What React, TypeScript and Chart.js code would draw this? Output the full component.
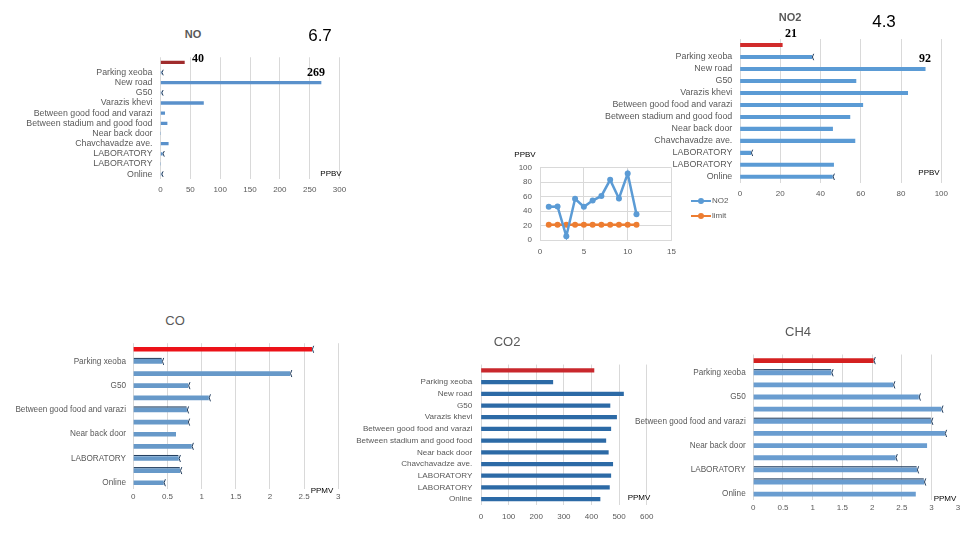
import React, { useEffect, useRef } from 'react';
import { Chart, registerables } from 'chart.js';

Chart.register(...registerables);

const FONT = "'Liberation Sans', Arial, sans-serif";
const SERIF = "'Liberation Serif', 'DejaVu Serif', serif";
const TEXT = '#595959';
const GRID = '#d9d9d9';

// Monitoring points (row 0 of each bar chart carries the guideline value)
const stations = [
  'Parking xeoba',
  'New road',
  'G50',
  'Varazis khevi',
  'Between good food and varazi',
  'Between stadium and good food',
  'Near back door',
  'Chavchavadze ave.',
  'LABORATORY',
  'LABORATORY',
  'Online',
];
const rowLabels = ['', ...stations];

// NO, ppbv
const noLimit = 40;
const noValues = [1.2, 269, 1, 72, 7, 11, 0, 13, 3, 0, 1];
const noAxis = [0, 300, 50];

// NO2, ppbv
const no2Limit = 21;
const no2Values = [35.6, 92, 57.6, 83.3, 61, 54.6, 46, 57.1, 5.3, 46.5, 45.9];
const no2Axis = [0, 100, 20];

// NO2 time series vs limit
const seriesX = [1, 2, 3, 4, 5, 6, 7, 8, 9, 10, 11];
const no2Series = [45.9, 46.5, 5.3, 57.1, 46, 54.6, 61, 83.3, 57.6, 92, 35.6];
const limitSeries = [21, 21, 21, 21, 21, 21, 21, 21, 21, 21, 21];
const seriesXAxis = [0, 15, 5];
const seriesYAxis = [0, 100, 20];

// CO, ppmv
const coLimit = 2.61;
const coValues = [0.415, 2.29, 0.8, 1.1, 0.78, 0.795, 0.62, 0.85, 0.66, 0.68, 0.44];
const coAxis = [0, 3, 0.5];

// CO2, ppmv
const co2Limit = 409;
const co2Values = [260, 516, 467, 491, 470, 452, 461, 477, 470, 465, 431];
const co2Axis = [0, 600, 100];

// CH4, ppmv
const ch4Limit = 2.02;
const ch4Values = [1.31, 2.35, 2.78, 3.16, 2.99, 3.22, 2.92, 2.39, 2.75, 2.87, 2.73];
const ch4Axis = [0, 3.5, 0.5];

type Frame = { left: number; right: number; top: number; bottom: number };

const tickText = (v: any) => String(Math.round(Number(v) * 100) / 100);

function fitCanvas(plot: Frame, canvasLeft: number, canvasTop: number, padRight: number, axisH: number) {
  const width = Math.ceil(plot.right - canvasLeft + padRight);
  const height = Math.ceil(plot.bottom - canvasTop + axisH);
  return {
    left: canvasLeft,
    top: canvasTop,
    width,
    height,
    yAxisW: plot.left - canvasLeft,
    padTop: plot.top - canvasTop,
    padRight: width - (plot.right - canvasLeft),
    axisH: height - (plot.bottom - canvasTop),
  };
}

// Error-bar style marks drawn at bar ends / along bar tops
function capsPlugin(ends: number[], tops: number[]) {
  return {
    id: 'errorCaps',
    afterDatasetsDraw(chart: any) {
      const meta = chart.getDatasetMeta(0);
      const ctx = chart.ctx;
      ctx.save();
      ctx.strokeStyle = '#1f3b5c';
      ctx.lineWidth = 1;
      tops.forEach((i) => {
        const el: any = meta.data[i];
        if (!el) return;
        const y = el.y - el.height / 2 - 1;
        ctx.beginPath();
        ctx.moveTo(el.base, y);
        ctx.lineTo(el.x, y);
        ctx.stroke();
      });
      ends.forEach((i) => {
        const el: any = meta.data[i];
        if (!el) return;
        const h = el.height / 2 + 1.5;
        ctx.beginPath();
        ctx.moveTo(el.x + 2, el.y - h);
        ctx.quadraticCurveTo(el.x - 0.5, el.y, el.x + 2, el.y + h);
        ctx.stroke();
      });
      ctx.restore();
    },
  };
}

interface BarSpec {
  limit: number;
  values: number[];
  axis: number[];
  plot: Frame;
  canvasLeft: number;
  canvasTop: number;
  tickPad: number;
  labelPad: number;
  fontSize: number;
  thickness: number;
  red: string;
  blue: string;
  everyOther?: boolean;
  ends?: number[];
  tops?: number[];
}

function barSetup(s: BarSpec) {
  const f = fitCanvas(s.plot, s.canvasLeft, s.canvasTop, 14, 20);
  const font = { family: FONT, size: s.fontSize };
  const config: any = {
    type: 'bar',
    data: {
      labels: rowLabels,
      datasets: [
        {
          data: [s.limit, ...s.values],
          backgroundColor: [s.red, ...s.values.map(() => s.blue)],
          barThickness: s.thickness,
          borderWidth: 0,
        },
      ],
    },
    options: {
      indexAxis: 'y',
      responsive: false,
      animation: false,
      layout: { padding: { left: 0, top: f.padTop, right: f.padRight, bottom: 0 } },
      plugins: { legend: { display: false }, tooltip: { enabled: false } },
      scales: {
        x: {
          min: s.axis[0],
          max: s.axis[1],
          ticks: {
            stepSize: s.axis[2],
            padding: s.tickPad,
            color: TEXT,
            font: { family: FONT, size: 8 },
            maxRotation: 0,
            callback: tickText,
          },
          grid: { color: GRID, drawTicks: false },
          border: { display: false },
          afterFit: (sc: any) => {
            sc.height = f.axisH;
          },
        },
        y: {
          ticks: {
            autoSkip: false,
            padding: s.labelPad,
            color: TEXT,
            font,
            callback: (_v: any, i: number) => (s.everyOther && i % 2 === 0 ? '' : rowLabels[i]),
          },
          grid: { display: false, drawTicks: false },
          border: { display: false },
          afterFit: (sc: any) => {
            sc.width = f.yAxisW;
          },
        },
      },
    },
    plugins: [capsPlugin(s.ends || [], s.tops || [])],
  };
  return { frame: f, config };
}

function lineSetup() {
  const plot = { left: 540, right: 672.3, top: 166, bottom: 240 };
  const f = fitCanvas(plot, 500, 155, 10, 20);
  const font = { family: FONT, size: 8 };
  const config: any = {
    type: 'line',
    data: {
      datasets: [
        {
          label: 'NO2',
          data: no2Series.map((v, i) => ({ x: seriesX[i], y: v })),
          borderColor: '#5b9bd5',
          backgroundColor: '#5b9bd5',
          borderWidth: 2.5,
          pointRadius: 3,
          pointBorderWidth: 0,
        },
        {
          label: 'limit',
          data: limitSeries.map((v, i) => ({ x: seriesX[i], y: v })),
          borderColor: '#ed7d31',
          backgroundColor: '#ed7d31',
          borderWidth: 2.5,
          pointRadius: 3,
          pointBorderWidth: 0,
        },
      ],
    },
    options: {
      responsive: false,
      animation: false,
      layout: { padding: { left: 0, top: f.padTop, right: f.padRight, bottom: 0 } },
      plugins: { legend: { display: false }, tooltip: { enabled: false } },
      scales: {
        x: {
          type: 'linear',
          min: seriesXAxis[0],
          max: seriesXAxis[1],
          ticks: { stepSize: seriesXAxis[2], padding: 7, color: TEXT, font },
          grid: { color: GRID, drawTicks: false },
          border: { color: GRID },
          afterFit: (sc: any) => {
            sc.height = f.axisH;
          },
        },
        y: {
          min: seriesYAxis[0],
          max: seriesYAxis[1],
          ticks: { stepSize: seriesYAxis[2], padding: 8, color: TEXT, font },
          grid: { color: GRID, drawTicks: false },
          border: { color: GRID },
          afterFit: (sc: any) => {
            sc.width = f.yAxisW;
          },
        },
      },
    },
  };
  return { frame: f, config };
}

function ChartCanvas({ setup }: { setup: { frame: any; config: any } }) {
  const ref = useRef<HTMLCanvasElement>(null);
  useEffect(() => {
    const chart = new Chart(ref.current as HTMLCanvasElement, setup.config);
    return () => chart.destroy();
  }, []);
  const f = setup.frame;
  return (
    <canvas
      ref={ref}
      width={f.width}
      height={f.height}
      style={{ position: 'absolute', left: f.left, top: f.top, width: f.width, height: f.height, display: 'block' }}
    />
  );
}

function Label(props: {
  x: number;
  y: number;
  text: string;
  size: number;
  color?: string;
  weight?: number;
  family?: string;
  anchor?: 'left' | 'center';
}) {
  const tx = props.anchor === 'left' ? '0' : '-50%';
  return (
    <div
      style={{
        position: 'absolute',
        left: props.x,
        top: props.y,
        transform: `translate(${tx}, -50%)`,
        fontSize: props.size,
        lineHeight: 1,
        color: props.color || '#000',
        fontWeight: props.weight || 400,
        fontFamily: props.family || FONT,
        whiteSpace: 'nowrap',
      }}
    >
      {props.text}
    </div>
  );
}

function LegendEntry({ x, y, color, text }: { x: number; y: number; color: string; text: string }) {
  return (
    <>
      <div style={{ position: 'absolute', left: x, top: y - 1.25, width: 20, height: 2.5, background: color }} />
      <div style={{ position: 'absolute', left: x + 7, top: y - 3, width: 6, height: 6, borderRadius: 3, background: color }} />
      <Label x={x + 21} y={y} text={text} size={8} color={TEXT} anchor="left" />
    </>
  );
}

const noSetup = barSetup({
  limit: noLimit,
  values: noValues,
  axis: noAxis,
  plot: { left: 160.5, right: 339.5, top: 54.8, bottom: 179.2 },
  canvasLeft: 0,
  canvasTop: 44,
  tickPad: 6,
  labelPad: 8,
  fontSize: 8.8,
  thickness: 2.6,
  red: '#a02c2d',
  blue: '#5a91cb',
  ends: [1, 3, 9, 11],
});

const no2Setup = barSetup({
  limit: no2Limit,
  values: no2Values,
  axis: no2Axis,
  plot: { left: 740, right: 941.3, top: 36.6, bottom: 182.8 },
  canvasLeft: 600,
  canvasTop: 26,
  tickPad: 5.7,
  labelPad: 7.7,
  fontSize: 8.9,
  thickness: 3.4,
  red: '#d12b2b',
  blue: '#5b9bd5',
  ends: [1, 9, 11],
});

const coSetup = barSetup({
  limit: coLimit,
  values: coValues,
  axis: coAxis,
  plot: { left: 133.3, right: 338.3, top: 341.6, bottom: 488.8 },
  canvasLeft: 0,
  canvasTop: 331,
  tickPad: 3,
  labelPad: 7.3,
  fontSize: 8.2,
  thickness: 4,
  red: '#ec1218',
  blue: '#6799c9',
  everyOther: true,
  ends: [0, 1, 2, 3, 4, 5, 6, 8, 9, 10, 11],
  tops: [1, 5, 9, 10],
});

const co2Setup = barSetup({
  limit: co2Limit,
  values: co2Values,
  axis: co2Axis,
  plot: { left: 481, right: 646.7, top: 361.3, bottom: 505 },
  canvasLeft: 340,
  canvasTop: 351,
  tickPad: 7,
  labelPad: 8.7,
  fontSize: 8.1,
  thickness: 3.6,
  red: '#c9282d',
  blue: '#2c6aa6',
});

const ch4Setup = barSetup({
  limit: ch4Limit,
  values: ch4Values,
  axis: ch4Axis,
  plot: { left: 753.3, right: 961.2, top: 352.1, bottom: 500.2 },
  canvasLeft: 620,
  canvasTop: 342,
  tickPad: 2.5,
  labelPad: 7.6,
  fontSize: 8.2,
  thickness: 4.2,
  red: '#d42020',
  blue: '#6a9dd0',
  everyOther: true,
  ends: [0, 1, 2, 3, 4, 5, 6, 8, 9, 10],
  tops: [1, 5, 9, 10],
});

const seriesSetup = lineSetup();

export default function App() {
  return (
    <div
      style={{
        position: 'fixed',
        left: 0,
        top: 0,
        width: 960,
        height: 540,
        background: '#fff',
        overflow: 'hidden',
      }}
    >
      {/* NO */}
      <ChartCanvas setup={noSetup} />
      <Label x={193} y={34} text="NO" size={11} color={TEXT} weight={700} />
      <Label x={320} y={35} text="6.7" size={17} />
      <Label x={198} y={58} text={String(noLimit)} size={12} weight={700} family={SERIF} />
      <Label x={316} y={72} text={String(noValues[1])} size={12} weight={700} family={SERIF} />
      <Label x={331} y={174} text="PPBV" size={8} />

      {/* NO2 series */}
      <ChartCanvas setup={seriesSetup} />
      <Label x={525} y={155} text="PPBV" size={8} />
      <LegendEntry x={691} y={201} color="#5b9bd5" text="NO2" />
      <LegendEntry x={691} y={216} color="#ed7d31" text="limit" />

      {/* NO2 */}
      <ChartCanvas setup={no2Setup} />
      <Label x={790} y={17} text="NO2" size={11} color={TEXT} weight={700} />
      <Label x={791} y={33} text={String(no2Limit)} size={12} weight={700} family={SERIF} />
      <Label x={884} y={21} text="4.3" size={17} />
      <Label x={925} y={58} text={String(no2Values[1])} size={12} weight={700} family={SERIF} />
      <Label x={929} y={173} text="PPBV" size={8} />

      {/* CO */}
      <ChartCanvas setup={coSetup} />
      <Label x={175} y={320} text="CO" size={13} color={TEXT} />
      <Label x={322} y={491} text="PPMV" size={8} />

      {/* CO2 */}
      <ChartCanvas setup={co2Setup} />
      <Label x={507} y={341} text="CO2" size={13} color={TEXT} />
      <Label x={639} y={498} text="PPMV" size={8} />

      {/* CH4 */}
      <ChartCanvas setup={ch4Setup} />
      <Label x={798} y={331} text="CH4" size={13} color={TEXT} />
      <Label x={945} y={499} text="PPMV" size={8} />
    </div>
  );
}
